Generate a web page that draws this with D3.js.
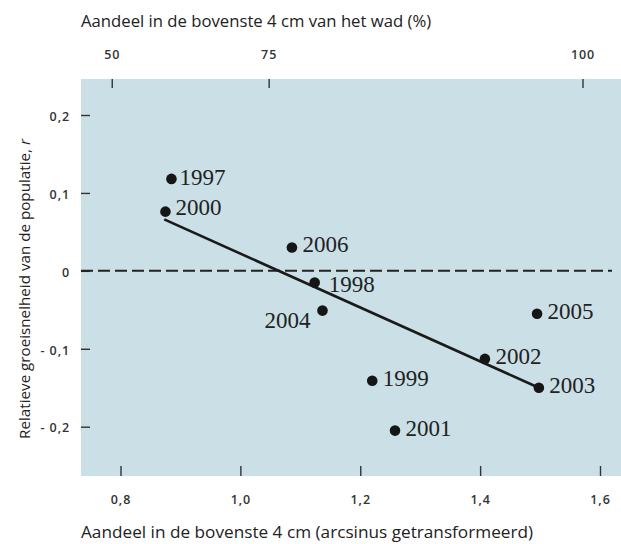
<!DOCTYPE html>
<html><head><meta charset="utf-8">
<script src="https://cdn.jsdelivr.net/npm/d3@7"></script>
<style>body{margin:0;background:#fff}svg{display:block}</style>
</head><body><svg id="c" width="621" height="544"></svg>
<script>
// ---- data ----
const years   = ["1997","2000","2006","1998","2004","2005","2002","2003","1999","2001"];
const xValues = [0.885, 0.875, 1.086, 1.124, 1.137, 1.495, 1.408, 1.498, 1.220, 1.258];
const yValues = [0.118, 0.076, 0.030, -0.015, -0.051, -0.055, -0.113, -0.150, -0.141, -0.205];
const trendX  = [0.873, 1.498];
const trendY  = [0.066, -0.150];
const bottomTicks = [0.8, 1.0, 1.2, 1.4, 1.6];
const topTicks    = [50, 75, 100];
const yTicks      = [-0.2, -0.1, 0, 0.1, 0.2];
const topTitle    = "Aandeel in de bovenste 4 cm van het wad (%)";
const bottomTitle = "Aandeel in de bovenste 4 cm (arcsinus getransformeerd)";
const yTitle      = "Relatieve groeisnelheid van de populatie, ";
const yTitleVar   = "r";

// ---- layout ----
const plot = {left: 81, right: 621, top: 79, bottom: 476};
const svg = d3.select("#c");
const x = d3.scaleLinear().domain([0.8, 1.6]).range([120.5, 600]);
const y = d3.scaleLinear().domain([-0.2, 0.2]).range([426.7, 115]);
const sansTick = "'Open Sans', sans-serif";
const tickColor = "#333";

svg.append("rect")
  .attr("x", plot.left).attr("y", plot.top)
  .attr("width", plot.right - plot.left).attr("height", plot.bottom - plot.top)
  .attr("fill", "#cadfe6");

const commaFmt = v => (v < 0 ? "- " : "") + (v === 0 ? "0" : Math.abs(v).toFixed(1).replace(".", ","));

function styleAxis(g) {
  g.select(".domain").remove();
  g.selectAll(".tick line").attr("stroke", tickColor).attr("stroke-width", 1.4);
  g.selectAll(".tick text")
    .attr("fill", "#333")
    .style("font-family", sansTick)
    .style("font-weight", 600)
    .style("font-size", "12.5px")
    .style("letter-spacing", "0.9px");
}

svg.append("g").attr("transform", `translate(0,${plot.bottom})`)
  .call(d3.axisBottom(x).tickValues(bottomTicks).tickSize(-10).tickPadding(19)
    .tickFormat(d => d.toFixed(1).replace(".", ",")))
  .call(styleAxis);

const toArc = p => Math.asin(Math.sqrt(p / 100));
svg.append("g").attr("transform", `translate(0,${plot.top})`)
  .call(d3.axisTop(x).tickValues(topTicks.map(toArc)).tickSize(-9).tickPadding(20)
    .tickFormat(v => String(Math.round(Math.pow(Math.sin(v), 2) * 100))))
  .call(styleAxis);

svg.append("g").attr("transform", `translate(${plot.left},0)`)
  .call(d3.axisLeft(y).tickValues(yTicks).tickSize(-9).tickPadding(11).tickFormat(commaFmt))
  .call(styleAxis)
  .call(g => g.selectAll(".tick text").attr("dy", "0.42em"));

svg.append("line")
  .attr("x1", plot.left).attr("x2", x(1.62))
  .attr("y1", y(0)).attr("y2", y(0))
  .attr("stroke", "#222").attr("stroke-width", 2)
  .attr("stroke-dasharray", "12,5");

const trend = trendX.map((v, i) => [v, trendY[i]]);
svg.append("path")
  .attr("d", d3.line().x(d => x(d[0])).y(d => y(d[1]))(trend))
  .attr("fill", "none").attr("stroke", "#1a1a1a").attr("stroke-width", 2.6);

const pts = years.map((yr, i) => ({yr, xv: xValues[i], yv: yValues[i]}));
svg.append("g").selectAll("circle").data(pts).join("circle")
  .attr("cx", d => x(d.xv)).attr("cy", d => y(d.yv)).attr("r", 5.3)
  .attr("fill", "#161616");

const labelPos = {
  "1998": {dx: 14, dy: 9, anchor: "start"},
  "2004": {dx: -12, dy: 17, anchor: "end"},
  "2000": {dx: 10, dy: 3, anchor: "start"},
  "1997": {dx: 8, dy: 6, anchor: "start"}
};
const defPos = {dx: 10.5, dy: 5, anchor: "start"};
svg.append("g").selectAll("text").data(pts).join("text")
  .attr("x", d => x(d.xv) + (labelPos[d.yr] || defPos).dx)
  .attr("y", d => y(d.yv) + (labelPos[d.yr] || defPos).dy)
  .attr("text-anchor", d => (labelPos[d.yr] || defPos).anchor)
  .style("font-family", "'Liberation Serif', 'Times New Roman', serif")
  .style("font-size", "23px")
  .attr("fill", "#222")
  .text(d => d.yr);

const titleFont = "'Open Sans', sans-serif";
svg.append("text").attr("x", plot.left).attr("y", 27)
  .style("font-family", titleFont).style("font-size", "16.7px").attr("fill", "#222")
  .text(topTitle);
svg.append("text").attr("x", plot.left).attr("y", 538)
  .style("font-family", titleFont).style("font-size", "17.2px").attr("fill", "#222")
  .text(bottomTitle);
const yt = svg.append("text")
  .attr("transform", `translate(30,289) rotate(-90)`)
  .attr("text-anchor", "middle")
  .style("font-family", titleFont).style("font-size", "15.2px").attr("fill", "#222");
yt.append("tspan").text(yTitle);
yt.append("tspan").style("font-style", "italic").text(yTitleVar);
</script>
</body></html>
